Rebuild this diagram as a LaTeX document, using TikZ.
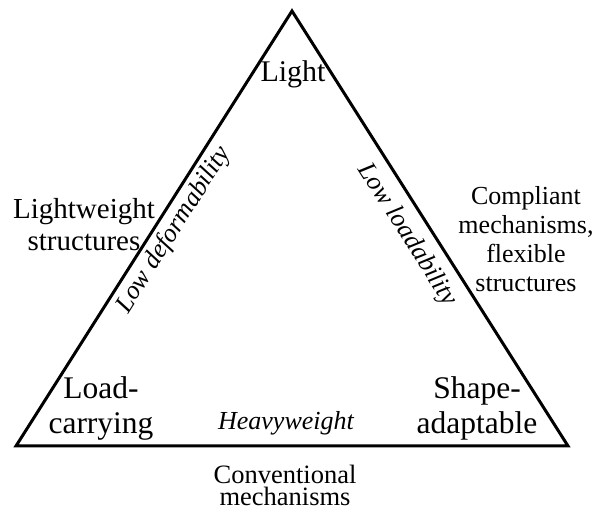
\documentclass[tikz,border=0pt]{standalone}
\usepackage{fontspec}
\setmainfont{Liberation Serif}
\usepackage{tikz}
\usetikzlibrary{calc}
\tikzset{
  corner/.style={align=center, inner sep=0pt, font=\fontsize{31.5}{35}\selectfont},
  side/.style={align=center, inner sep=0pt, font=\fontsize{29}{32}\selectfont},
  edgelbl/.style={inner sep=0pt, font=\fontsize{26}{30}\selectfont\itshape},
}

\begin{document}
\begin{tikzpicture}[x=1pt, y=1pt]
  \useasboundingbox (0,0) rectangle (595,511);
  % corners of the triangle
  \coordinate (top)   at (292,500);
  \coordinate (left)  at (16,65);
  \coordinate (right) at (568,65);
  \draw[line width=3pt, line join=miter] (left) -- (top) -- (right) -- cycle;
  % corner labels
  \node[corner, font=\fontsize{30}{35}\selectfont] (light) at (293,437) {Light};
  \node[corner] (load)  at (101,103) {Load-\\carrying};
  \node[corner] (shape) at (477,103) {Shape-\\adaptable};
  % along the edges
  \node[edgelbl, rotate=57.6]  (lowdef)  at (174,281) {Low deformability};
  \node[edgelbl, rotate=-57.6] (lowload) at (407,276) {Low loadability};
  \node[edgelbl] (heavy) at (286,88) {Heavyweight};
  % outside labels
  \node[side] (lwstruct) at (84,286) {Lightweight\\structures};
  \node[side, font=\fontsize{26}{29}\selectfont] (compliant) at (526,272)
    {Compliant\\mechanisms,\\flexible\\structures};
  \node[side, font=\fontsize{26.5}{22}\selectfont] (conv) at (285,26)
    {Conventional\\mechanisms};
\end{tikzpicture}
\end{document}
